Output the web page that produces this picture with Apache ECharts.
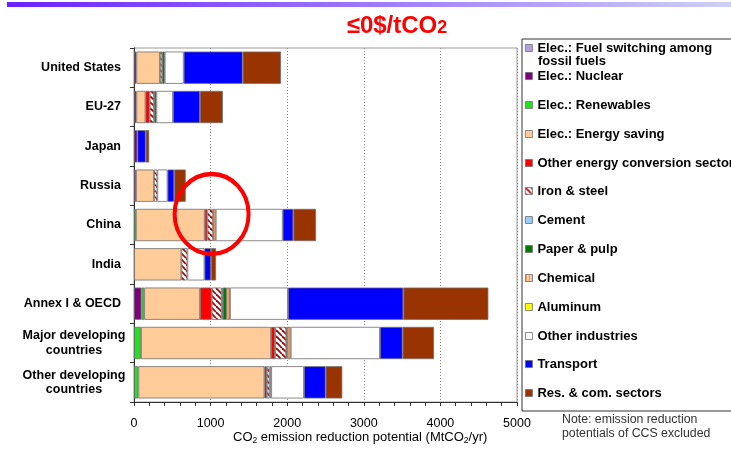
<!DOCTYPE html>
<html>
<head>
<meta charset="utf-8">
<script src="https://cdn.jsdelivr.net/npm/echarts@6/dist/echarts.min.js"></script>
<style>
  html, body { margin: 0; padding: 0; background: #fff; }
  #chart { width: 731px; height: 450px; }
</style>
</head>
<body>
<div id="chart"></div>
<script>
// Regions, top to bottom
const categories = [
  'United States', 'EU-27', 'Japan', 'Russia', 'China', 'India',
  'Annex I & OECD', 'Major developing\ncountries', 'Other developing\ncountries'
];

// Reduction potential at <=0 $/tCO2 by sector (MtCO2/yr), one value per region
const fuelSwitching     = [0, 0, 0, 0, 0, 0, 0, 0, 0];
const nuclear           = [31, 31, 44, 26, 0, 0, 98, 0, 0];
const renewables        = [0, 0, 0, 0, 25, 0, 35, 91, 57];
const energySaving      = [308, 119, 0, 235, 898, 618, 729, 1698, 1646];
const otherConversion   = [0, 55, 0, 0, 35, 0, 152, 52, 31];
const ironSteel         = [29, 57, 0, 44, 74, 79, 130, 147, 35];
const cement            = [0, 0, 0, 0, 0, 0, 15, 0, 22];
const paperPulp         = [33, 30, 0, 0, 0, 0, 52, 12, 0];
const chemical          = [0, 0, 0, 0, 35, 0, 42, 46, 0];
const aluminum          = [0, 0, 0, 0, 0, 0, 0, 0, 0];
const otherIndustries   = [248, 217, 0, 133, 874, 223, 757, 1165, 428];
const transport         = [770, 351, 109, 87, 139, 85, 1506, 296, 283];
const resCom            = [500, 300, 45, 150, 296, 66, 1110, 409, 217];

// Axis ticks
const xTicks = { min: 0, max: 5000, interval: 1000 };

const FONT = "'Liberation Sans', Arial, sans-serif";

// Fill patterns
function makePattern(w, h, paint) {
  const c = document.createElement('canvas');
  c.width = w; c.height = h;
  const ctx = c.getContext('2d');
  ctx.fillStyle = '#ffffff';
  ctx.fillRect(0, 0, w, h);
  paint(ctx, w, h);
  return { image: c, repeat: 'repeat' };
}
const hatchIron = makePattern(6, 6, (ctx, w, h) => {
  ctx.strokeStyle = '#a01010';
  ctx.lineWidth = 1.9;
  for (let k = -1; k <= 1; k++) {
    ctx.beginPath();
    ctx.moveTo(k * w, 0);
    ctx.lineTo(k * w + w, h);
    ctx.stroke();
  }
});
const stripeChemical = makePattern(3, 4, (ctx) => {
  ctx.fillStyle = '#f79a5c';
  ctx.fillRect(0, 0, 2, 4);
});

const FUEL_SWITCH = 'Elec.: Fuel switching among fossil fuels';

const sectors = [
  { name: FUEL_SWITCH, data: fuelSwitching, color: '#b7a2e6' },
  { name: 'Elec.: Nuclear', data: nuclear, color: '#7f007f' },
  { name: 'Elec.: Renewables', data: renewables, color: '#1ee61e' },
  { name: 'Elec.: Energy saving', data: energySaving, color: '#ffcc99' },
  { name: 'Other energy conversion sector', data: otherConversion, color: '#ff0000' },
  { name: 'Iron & steel', data: ironSteel, color: hatchIron },
  { name: 'Cement', data: cement, color: '#99ccff' },
  { name: 'Paper & pulp', data: paperPulp, color: '#007a00' },
  { name: 'Chemical', data: chemical, color: stripeChemical },
  { name: 'Aluminum', data: aluminum, color: '#ffff00' },
  { name: 'Other industries', data: otherIndustries, color: '#ffffff' },
  { name: 'Transport', data: transport, color: '#0000ff' },
  { name: 'Res. & com. sectors', data: resCom, color: '#993300' }
];

// Vertical centre of each legend row
const legendRows = [48, 76, 105, 134, 163, 191, 220, 249, 278, 307, 336, 364, 393];

const series = sectors.map(s => ({
  name: s.name,
  type: 'bar',
  stack: 'total',
  barCategoryGap: '18%',
  data: s.data.map(v => (v > 0 ? v : null)),
  itemStyle: { color: s.color, borderColor: '#6e6e6e', borderWidth: 0.8 },
  emphasis: { disabled: true },
  silent: true
}));

const legendText = { fontFamily: FONT, fontSize: 13, fontWeight: 'bold', color: '#000', lineHeight: 14 };
const legends = sectors.map((s, i) => ({
  data: [s.name],
  left: 525,
  top: legendRows[i] - 7,
  padding: 0,
  itemWidth: 7,
  itemHeight: 7,
  itemGap: 0,
  selectedMode: false,
  icon: 'rect',
  // the long fuel-switching label wraps; its second line is drawn below
  formatter: n => (n === FUEL_SWITCH ? 'Elec.: Fuel switching among' : n),
  itemStyle: { borderColor: '#6e6e6e', borderWidth: 0.8 },
  textStyle: legendText
}));

const chart = echarts.init(document.getElementById('chart'), null, { renderer: 'canvas' });

chart.setOption({
  animation: false,
  backgroundColor: '#ffffff',
  title: {
    text: '{a|≤0$/tCO}{b|2}',
    left: 392,
    top: 8,
    textAlign: 'center',
    textStyle: {
      rich: {
        a: { fontFamily: FONT, fontSize: 24, color: '#ff0000', lineHeight: 26 },
        b: { fontFamily: FONT, fontSize: 18, color: '#ff0000', lineHeight: 26, padding: [4, 0, 0, 0] }
      }
    }
  },
  grid: {
    left: 134, right: 214, top: 48, bottom: 48,
    show: true, borderColor: '#9a9a9a', borderWidth: 1
  },
  xAxis: {
    type: 'value',
    min: xTicks.min, max: xTicks.max, interval: xTicks.interval,
    axisLine: { show: true, lineStyle: { color: '#333', width: 1 } },
    axisTick: { show: true, length: 4, lineStyle: { color: '#333' } },
    minorTick: { show: true, splitNumber: 5, length: 4, lineStyle: { color: '#333' } },
    splitLine: { show: true, lineStyle: { color: '#8a8a8a', type: [1, 2], width: 1 } },
    axisLabel: {
      margin: 15, fontFamily: FONT, fontSize: 12.5, color: '#000',
      formatter: v => String(v)
    }
  },
  yAxis: {
    type: 'category',
    data: categories,
    inverse: true,
    axisLine: { show: true, lineStyle: { color: '#333', width: 1 } },
    axisTick: { show: true, length: 4, lineStyle: { color: '#333' } },
    splitLine: { show: false },
    axisLabel: {
      margin: 4,
      formatter: v => v.indexOf('\n') >= 0
        ? v.split('\n').map(l => '{c|' + l + '}').join('\n')
        : '{s|' + v + '}',
      rich: {
        s: { fontFamily: FONT, fontSize: 12.5, fontWeight: 'bold', color: '#000', padding: [0, 9, 0, 0] },
        c: { fontFamily: FONT, fontSize: 12.5, fontWeight: 'bold', color: '#000', width: 112, align: 'center', lineHeight: 14.5 }
      }
    }
  },
  legend: legends,
  series: series,
  graphic: [
    {
      type: 'rect',
      shape: { x: 7, y: 2, width: 724, height: 5 },
      style: {
        fill: new echarts.graphic.LinearGradient(0, 0, 1, 0, [
          { offset: 0, color: '#6a22ff' },
          { offset: 1, color: '#d0d0f6' }
        ])
      },
      silent: true
    },
    {
      type: 'rect',
      shape: { x: 522, y: 39, width: 230, height: 372 },
      style: { fill: null, stroke: '#333', lineWidth: 1 },
      silent: true
    },
    {
      type: 'text',
      left: 233,
      top: 431,
      style: {
        text: '{t|CO}{s|2}{t| emission reduction potential (MtCO}{s|2}{t|/yr)}',
        rich: {
          t: { fontFamily: FONT, fontSize: 13, color: '#000', lineHeight: 14 },
          s: { fontFamily: FONT, fontSize: 8.5, color: '#000', padding: [6, 0, 0, 0] }
        }
      },
      silent: true
    },
    {
      type: 'text',
      left: 562,
      top: 413,
      style: {
        text: 'Note: emission reduction\npotentials of CCS excluded',
        fontFamily: FONT, fontSize: 12.3, lineHeight: 14, fill: '#333'
      },
      silent: true
    },
    {
      type: 'text',
      left: 538,
      top: legendRows[0] + 6,
      style: {
        text: 'fossil fuels',
        fontFamily: FONT, fontSize: 13, fontWeight: 'bold', lineHeight: 14, fill: '#000'
      },
      silent: true
    }
  ]
});

// Red ring highlighting China around the 1000 MtCO2 mark
const p = chart.convertToPixel({ xAxisIndex: 0, yAxisIndex: 0 }, [1000, 'China']);
chart.setOption({
  graphic: [
    {}, {}, {}, {}, {},
    {
      type: 'circle',
      x: p[0] + 1,
      y: p[1] - 11,
      scaleY: 40 / 37,
      shape: { cx: 0, cy: 0, r: 37 },
      style: { fill: null, stroke: '#ff0000', lineWidth: 4 },
      z: 100,
      silent: true
    }
  ]
});
</script>
</body>
</html>
